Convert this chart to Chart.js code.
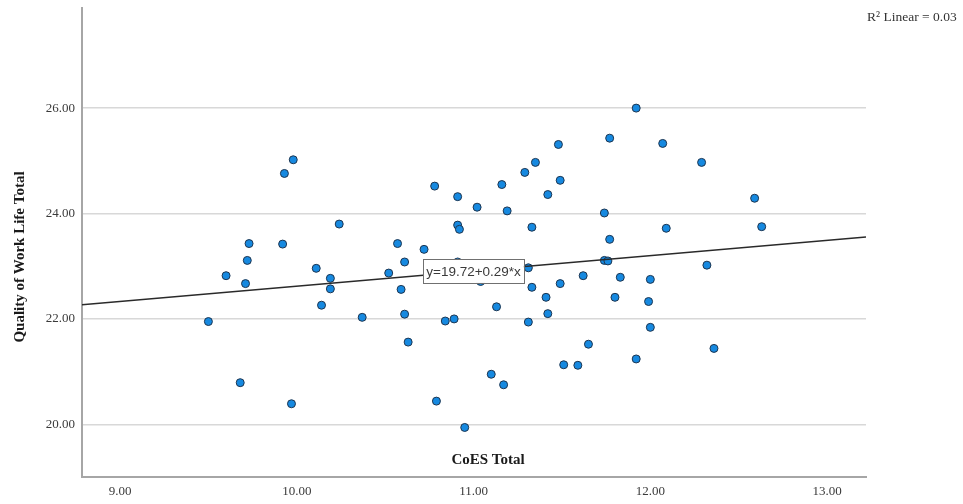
<!DOCTYPE html>
<html>
<head>
<meta charset="utf-8">
<script src="https://cdn.jsdelivr.net/npm/chart.js@4/dist/chart.umd.min.js"></script>
<style>
  html, body { margin: 0; padding: 0; background: #ffffff; }
  #wrap { width: 963px; height: 504px; position: relative; }
</style>
</head>
<body>
<div id="wrap"><canvas id="chart" width="963" height="504"></canvas></div>
<script>
// CoES Total (x) against Quality of Work Life Total (y), one entry per respondent
const coesTotal = [
  9.50, 9.60, 9.71, 9.72, 9.73, 9.68, 9.92, 9.93, 9.98, 9.97, 10.11, 10.14,
  11.92, 11.77, 11.48, 11.35, 11.29, 11.49, 11.16, 10.78, 10.91, 11.42,
  11.02, 11.19, 11.74, 10.24, 10.91, 10.92, 11.33, 11.77, 10.57, 10.72,
  10.61, 11.74, 11.76, 10.52, 10.19, 11.31, 11.62, 11.83, 11.04, 10.19,
  10.59, 11.33, 11.49, 11.41, 11.80, 11.13, 10.37, 10.61, 10.84, 10.89,
  11.31, 11.42, 10.63, 11.65, 11.51, 11.59, 11.92, 11.10, 11.17, 10.79, 10.95,
  12.07, 12.29, 12.59, 12.09, 12.63, 12.32, 12.00, 11.99, 12.00, 12.36, 10.91
];
const qwlTotal = [
  21.95, 22.82, 22.67, 23.11, 23.43, 20.79, 23.42, 24.76, 25.02, 20.39, 22.96, 22.26,
  26.00, 25.43, 25.31, 24.97, 24.78, 24.63, 24.55, 24.52, 24.32, 24.36,
  24.12, 24.05, 24.01, 23.80, 23.78, 23.70, 23.74, 23.51, 23.43, 23.32,
  23.08, 23.11, 23.10, 22.87, 22.77, 22.97, 22.82, 22.79, 22.71, 22.57,
  22.56, 22.60, 22.67, 22.41, 22.41, 22.23, 22.03, 22.09, 21.96, 22.00,
  21.94, 22.10, 21.56, 21.52, 21.13, 21.12, 21.24, 20.95, 20.75, 20.44, 19.94,
  25.33, 24.97, 24.29, 23.72, 23.75, 23.02, 22.75, 22.33, 21.84, 21.44, 23.08
];

// Axis ranges and tick values
const xRange = [8.785, 13.22];
const yRange = [19.0, 27.9];
const xTicks = [9, 10, 11, 12, 13];
const yTicks = [20, 22, 24, 26];

// Linear fit
const fitIntercept = 19.72;
const fitSlope = 0.29;
const rSquaredLinear = 0.03;
const fitLabelAtX = 11;

const xTitle = 'CoES Total';
const yTitle = 'Quality of Work Life Total';

const fitY = x => fitIntercept + fitSlope * x;
const points = coesTotal.map((x, i) => ({ x: x, y: qwlTotal[i] }));
const fitLine = [
  { x: xRange[0], y: fitY(xRange[0]) },
  { x: xRange[1], y: fitY(xRange[1]) }
];

const SERIF = "'Liberation Serif', 'Times New Roman', serif";
const SANS = "'Liberation Sans', Arial, sans-serif";

// Axis titles, R² note and the fit-equation box
const annotations = {
  id: 'annotations',
  afterDatasetsDraw(chart) {
    const { ctx, scales } = chart;
    const px = scales.x.getPixelForValue(fitLabelAtX);
    const py = scales.y.getPixelForValue(fitY(fitLabelAtX));
    const text = 'y=' + fitIntercept.toFixed(2) + '+' + fitSlope.toFixed(2) + '*x';
    ctx.save();
    ctx.font = '13.5px ' + SANS;
    const w = ctx.measureText(text).width + 6;
    const h = 24;
    ctx.fillStyle = '#ffffff';
    ctx.fillRect(px - w / 2, py - h / 2, w, h);
    ctx.strokeStyle = '#707070';
    ctx.lineWidth = 1;
    ctx.strokeRect(Math.round(px - w / 2) + 0.5, Math.round(py - h / 2) + 0.5, Math.round(w), h);
    ctx.fillStyle = '#3a3a3a';
    ctx.textAlign = 'center';
    ctx.textBaseline = 'middle';
    ctx.fillText(text, px, py + 1);
    ctx.restore();
  },
  afterDraw(chart) {
    const { ctx, chartArea } = chart;
    ctx.save();
    ctx.fillStyle = '#1a1a1a';
    ctx.font = 'bold 15px ' + SERIF;
    ctx.textAlign = 'center';
    ctx.textBaseline = 'middle';
    ctx.fillText(xTitle, 488, chartArea.bottom - 17);

    ctx.translate(20, 257);
    ctx.rotate(-Math.PI / 2);
    ctx.fillText(yTitle, 0, 0);
    ctx.restore();

    ctx.save();
    ctx.fillStyle = '#333333';
    ctx.font = '13.5px ' + SERIF;
    ctx.textAlign = 'left';
    ctx.textBaseline = 'middle';
    ctx.fillText('R² Linear = ' + rSquaredLinear.toFixed(2), 867, 17);
    ctx.restore();
  }
};

new Chart(document.getElementById('chart'), {
  type: 'scatter',
  data: {
    datasets: [
      {
        type: 'line',
        data: fitLine,
        borderColor: '#2a2a2a',
        borderWidth: 1.4,
        pointRadius: 0,
        fill: false,
        order: 0
      },
      {
        data: points,
        backgroundColor: '#1689e0',
        borderColor: '#1d3550',
        borderWidth: 1,
        pointRadius: 4,
        pointHoverRadius: 4,
        order: 1
      }
    ]
  },
  options: {
    responsive: false,
    animation: false,
    devicePixelRatio: 1,
    layout: { padding: { left: 0, right: 97, top: 8, bottom: 0 } },
    plugins: {
      legend: { display: false },
      tooltip: { enabled: false }
    },
    scales: {
      x: {
        type: 'linear',
        position: 'bottom',
        min: xRange[0],
        max: xRange[1],
        afterBuildTicks: s => { s.ticks = xTicks.map(v => ({ value: v })); },
        afterFit: s => { s.height = 27; s.paddingLeft = 0; s.paddingRight = 0; },
        grid: { display: false, drawTicks: false },
        border: { display: true, color: '#a6a6a6', width: 2 },
        ticks: {
          padding: 7,
          color: '#3a3a3a',
          font: { family: SERIF, size: 13 },
          maxRotation: 0,
          callback: v => Number(v).toFixed(2)
        }
      },
      y: {
        type: 'linear',
        min: yRange[0],
        max: yRange[1],
        afterBuildTicks: s => { s.ticks = yTicks.map(v => ({ value: v })); },
        afterFit: s => { s.width = 82; s.paddingTop = 0; s.paddingBottom = 0; },
        grid: { color: '#d8d8d8', lineWidth: 1.5, drawTicks: false },
        border: { display: true, color: '#a6a6a6', width: 2 },
        ticks: {
          padding: 7,
          color: '#3a3a3a',
          font: { family: SERIF, size: 13 },
          callback: v => Number(v).toFixed(2)
        }
      }
    }
  },
  plugins: [annotations]
});
</script>
</body>
</html>
